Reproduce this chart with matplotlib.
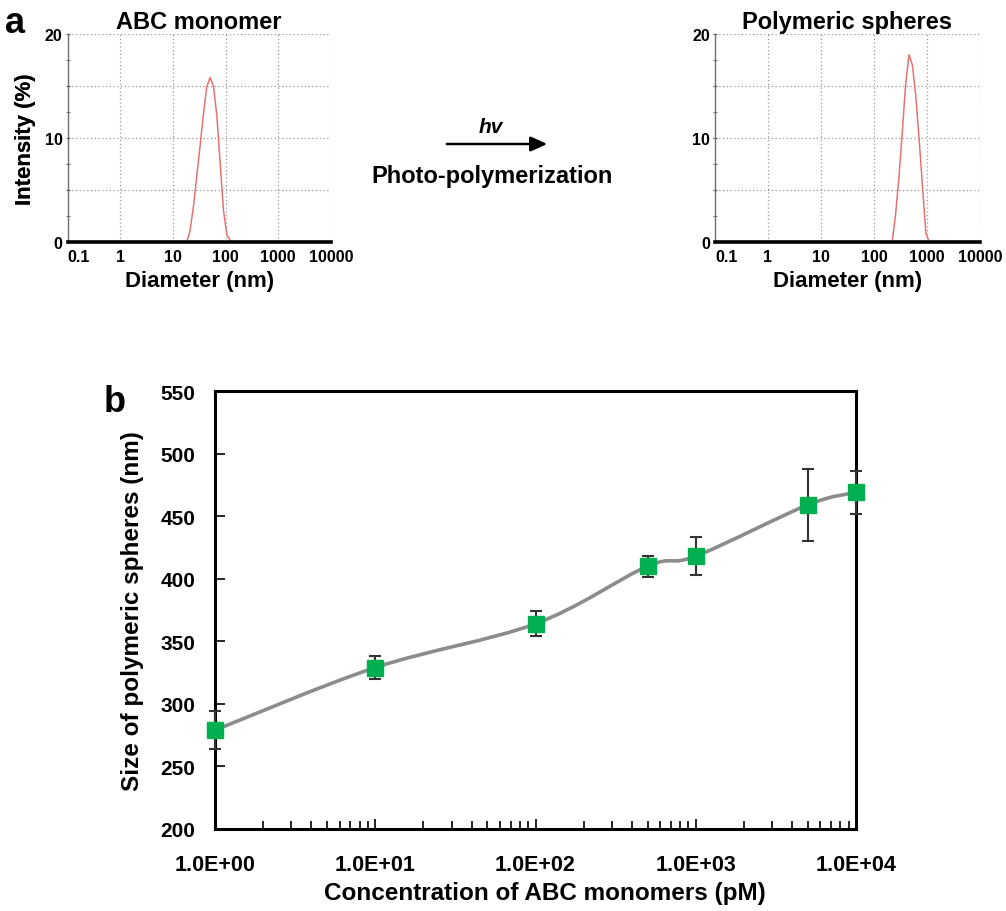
import numpy as np
import matplotlib
matplotlib.use("Agg")
import matplotlib.pyplot as plt
from matplotlib.path import Path
from matplotlib.patches import PathPatch
from matplotlib.ticker import FixedLocator, FixedFormatter, MultipleLocator, NullFormatter, LogLocator

plt.rcParams['font.family'] = ['Liberation Sans', 'DejaVu Sans']
plt.rcParams['font.weight'] = 'bold'

# ---------------- data ----------------
# Panel a: DLS intensity distributions
mono_diam = [18.2, 21.0, 24.4, 28.2, 32.7, 37.8, 43.8, 50.7, 58.8, 68.1, 78.8, 91.3, 105.7, 122.4, 141.8]
mono_int = [0.0, 1.0, 3.3, 6.2, 9.2, 12.2, 14.9, 15.8, 15.0, 12.2, 7.6, 3.0, 0.7, 0.15, 0.0]

poly_diam = [190.1, 220.2, 255.0, 295.3, 342.0, 396.1, 458.7, 531.2, 615.1, 712.4, 825.0, 955.4, 1106.0]
poly_int = [0.0, 0.0, 2.6, 6.2, 10.6, 15.2, 18.0, 17.0, 14.0, 9.8, 5.2, 0.8, 0.0]

dls_xticks = [0.1, 1, 10, 100, 1000, 10000]
dls_xticklabels = ['0.1', '1', '10', '100', '1000', '10000']
dls_yticks = [0, 5, 10, 15, 20]
dls_yticklabels = ['0', '', '10', '', '20']

# Panel b: size vs concentration
conc = [1, 10, 100, 500, 1000, 5000, 10000]
size = [279, 329, 364, 410, 418, 459, 469]
size_err = [15, 9.5, 10, 8.5, 15, 29, 17]
conc_ticks = [1, 10, 100, 1000, 10000]
conc_ticklabels = ['1.0E+00', '1.0E+01', '1.0E+02', '1.0E+03', '1.0E+04']

W, H = 1006, 912
fig = plt.figure(figsize=(W / 100, H / 100), dpi=100)


def fx(px):
    return px / W


def fy(py):
    return 1 - py / H


def dls_axes(left, right, title, xd, yi):
    ax = fig.add_axes([fx(left), fy(243), fx(right - left), (243 - 35) / H])
    ax.set_xscale('log')
    ax.set_xlim(0.1, 10000)
    ax.set_ylim(0, 20)
    ax.plot(xd, yi, color='#e87272', lw=1.1, zorder=3)
    ax.xaxis.set_major_locator(FixedLocator(dls_xticks))
    ax.xaxis.set_major_formatter(FixedFormatter(dls_xticklabels))
    ax.xaxis.set_minor_locator(FixedLocator([]))
    ax.yaxis.set_major_locator(FixedLocator(dls_yticks))
    ax.yaxis.set_major_formatter(FixedFormatter(dls_yticklabels))
    ax.yaxis.set_minor_locator(MultipleLocator(2.5))
    ax.grid(True, which='major', ls=(0, (1, 2)), color='#9a9a9a', lw=0.9)
    for s in ['top', 'right']:
        ax.spines[s].set_visible(False)
    ax.spines['left'].set_color('#707070')
    ax.spines['left'].set_linewidth(1.0)
    ax.spines['bottom'].set_color('black')
    ax.spines['bottom'].set_linewidth(2.6)
    ax.spines['bottom'].set_zorder(4)
    ax.tick_params(axis='x', length=0, pad=5, labelsize=11.5)
    ax.tick_params(axis='y', which='both', direction='inout', length=3, color='#555555',
                   pad=2, labelsize=11.5)
    labs = ax.get_xticklabels()
    labs[0].set_ha('left')
    for lab in ax.get_xticklabels() + ax.get_yticklabels():
        lab.set_fontweight('bold')
    ax.set_title(title, fontsize=17, fontweight='bold', pad=4)
    ax.set_xlabel('Diameter (nm)', fontsize=16, fontweight='bold', va='center')
    ax.xaxis.set_label_coords(0.5, (243 - 282) / 208)
    ax.set_ylabel('Intensity (%)', fontsize=16, fontweight='bold', va='center')
    ax.yaxis.set_label_coords((25 - left) / (right - left), 0.5)
    return ax


ax1 = dls_axes(67.5, 331, 'ABC monomer', mono_diam, mono_int)
ax2 = dls_axes(715, 980, 'Polymeric spheres', poly_diam, poly_int)

# labels and arrow
fig.text(fx(5), fy(33), 'a', fontsize=26, fontweight='bold', ha='left', va='baseline')
fig.text(fx(104), fy(412), 'b', fontsize=26, fontweight='bold', ha='left', va='baseline')
fig.text(fx(491), fy(133), 'hv', fontsize=15, fontweight='bold', style='italic',
         ha='center', va='baseline')
fig.text(fx(492), fy(183), 'Photo-polymerization', fontsize=17, fontweight='bold',
         ha='center', va='baseline')
fig.patches.append(matplotlib.patches.FancyArrowPatch(
    (fx(444), fy(145)), (fx(550), fy(145)), transform=fig.transFigure,
    arrowstyle='-|>,head_length=1.0,head_width=0.45', mutation_scale=10,
    color='black', lw=1.8))

# ---------------- panel b ----------------
ax3 = fig.add_axes([fx(215), fy(830), fx(856 - 215), (830 - 392) / H])
ax3.set_xscale('log')
ax3.set_xlim(1, 10000)
ax3.set_ylim(200, 550)

# smooth curve (Catmull-Rom style Bezier through points in log-x space)
lx = np.log10(np.array(conc, dtype=float))
ly = np.array(size, dtype=float)
P = np.column_stack([lx, ly])
verts = [P[0]]
codes = [Path.MOVETO]
n = len(P)
for i in range(n - 1):
    p0 = P[i - 1] if i > 0 else P[i]
    p1 = P[i]
    p2 = P[i + 1]
    p3 = P[i + 2] if i + 2 < n else P[i + 1]
    c1 = p1 + (p2 - p0) / 6.0
    c2 = p2 - (p3 - p1) / 6.0
    verts += [c1, c2, p2]
    codes += [Path.CURVE4] * 3
verts = np.array(verts)
verts[:, 0] = 10 ** verts[:, 0]
ax3.add_patch(PathPatch(Path(verts, codes), facecolor='none', edgecolor='#8c8c8c',
                        lw=2.6, zorder=2, capstyle='round'))

ax3.errorbar(conc, size, yerr=size_err, fmt='none', ecolor='#333333', elinewidth=1.5,
             capsize=4.5, capthick=1.5, zorder=3, clip_on=False)
ax3.plot(conc, size, ls='none', marker='s', markersize=12, color='#00b050',
         markeredgecolor='#00b050', zorder=4, clip_on=False)

ax3.xaxis.set_major_locator(FixedLocator(conc_ticks))
ax3.xaxis.set_major_formatter(FixedFormatter(conc_ticklabels))
ax3.xaxis.set_minor_locator(LogLocator(base=10, subs=np.arange(2, 10), numticks=20))
ax3.xaxis.set_minor_formatter(NullFormatter())
ax3.yaxis.set_major_locator(MultipleLocator(50))
for s in ax3.spines.values():
    s.set_linewidth(2.2)
    s.set_color('black')
ax3.tick_params(axis='x', which='major', direction='in', length=7, width=1.2, pad=18,
                labelsize=15.5)
ax3.tick_params(axis='x', which='minor', direction='in', length=6, width=1.2)
ax3.tick_params(axis='y', which='major', direction='in', length=7, width=1.2, pad=14,
                labelsize=15)
for lab in ax3.get_xticklabels() + ax3.get_yticklabels():
    lab.set_fontweight('bold')
ax3.set_xlabel('Concentration of ABC monomers (pM)', fontsize=17.5, fontweight='bold',
               va='center')
ax3.xaxis.set_label_coords(0.515, (830 - 894) / 438)
ax3.set_ylabel('Size of polymeric spheres (nm)', fontsize=17.5, fontweight='bold',
               va='center')
ax3.yaxis.set_label_coords((132 - 215) / 641, 0.5)

fig.savefig('out.png', dpi=100)
